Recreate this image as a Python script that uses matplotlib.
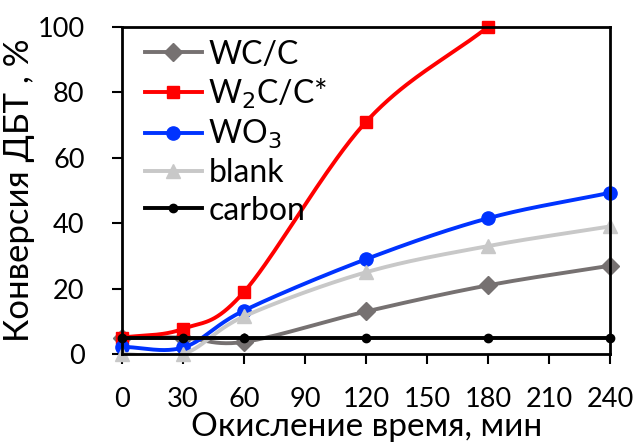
import numpy as np
import matplotlib
matplotlib.use('Agg')
import matplotlib.pyplot as plt

plt.rcParams['font.family'] = ['Lato', 'DejaVu Sans']

# время окисления, мин
t = [0, 30, 60, 120, 180, 240]
t_w2c = [0, 30, 60, 120, 180]

wc_c = [5, 5, 3.7, 13, 21, 27]
w2c_c = [5, 7.7, 19, 71, 100]
wo3 = [2.2, 2, 13.3, 29, 41.5, 49.3]
blank = [0, 0, 11.5, 25, 33, 39]
carbon = [5, 5, 5, 5, 5, 5]


def smooth(x, y, n=40):
    # сглаживание как в Excel (Catmull-Rom)
    x = np.asarray(x, float)
    y = np.asarray(y, float)
    px = np.concatenate([[2 * x[0] - x[1]], x, [2 * x[-1] - x[-2]]])
    py = np.concatenate([[2 * y[0] - y[1]], y, [2 * y[-1] - y[-2]]])
    xs, ys = [], []
    s = np.linspace(0, 1, n)
    for i in range(1, len(px) - 2):
        p0, p1, p2, p3 = [np.array([px[j], py[j]]) for j in range(i - 1, i + 3)]
        c1 = p1 + (p2 - p0) / 6
        c2 = p2 - (p3 - p1) / 6
        b = ((1 - s) ** 3)[:, None] * p1 + (3 * (1 - s) ** 2 * s)[:, None] * c1 \
            + (3 * (1 - s) * s ** 2)[:, None] * c2 + (s ** 3)[:, None] * p2
        xs.extend(b[:, 0])
        ys.extend(b[:, 1])
    return xs, ys


fig = plt.figure(figsize=(6.39, 4.47), dpi=100)
ax = fig.add_axes([0.191, 0.208, 0.764, 0.732])

series = [
    (t, wc_c, '#767171', 'D', 'WC/C', 9),
    (t_w2c, w2c_c, '#FF0000', 's', 'W$_2$C/C*', 9),
    (t, wo3, '#0033FF', 'o', 'WO$_3$', 9.5),
    (t, blank, '#C8C8C8', '^', 'blank', 10.5),
    (t, carbon, '#000000', 'o', 'carbon', 6),
]
for x, y, c, m, lab, ms in series:
    sx, sy = smooth(x, y)
    ax.plot(sx, sy, color=c, lw=2.8, solid_capstyle='round')
    ax.plot(x, y, ls='none', marker=m, color=c, ms=ms, clip_on=False)
    ax.plot([], [], color=c, lw=2.8, marker=m, ms=ms, label=lab)

ax.set_xlim(0, 240)
ax.set_ylim(0, 100)
ax.set_xticks(range(0, 241, 30))
ax.set_yticks(range(0, 101, 20))
ax.tick_params(axis='x', direction='out', length=7, width=1.5, pad=17, labelsize=19.5)
ax.tick_params(axis='y', direction='out', length=7, width=1.5, pad=20, labelsize=19.5)
for sp in ax.spines.values():
    sp.set_linewidth(2)

ax.set_xlabel('Окисление время, мин', fontsize=24, labelpad=0)
ax.set_ylabel('Конверсия ДБТ , %', fontsize=25, labelpad=2)

ax.legend(loc='upper left', bbox_to_anchor=(0.02, 1.0), frameon=False, fontsize=23,
          handlelength=1.8, borderaxespad=0.1, borderpad=0.3, labelspacing=0.22,
          handletextpad=0.2)

fig.savefig('out.png', dpi=100)
